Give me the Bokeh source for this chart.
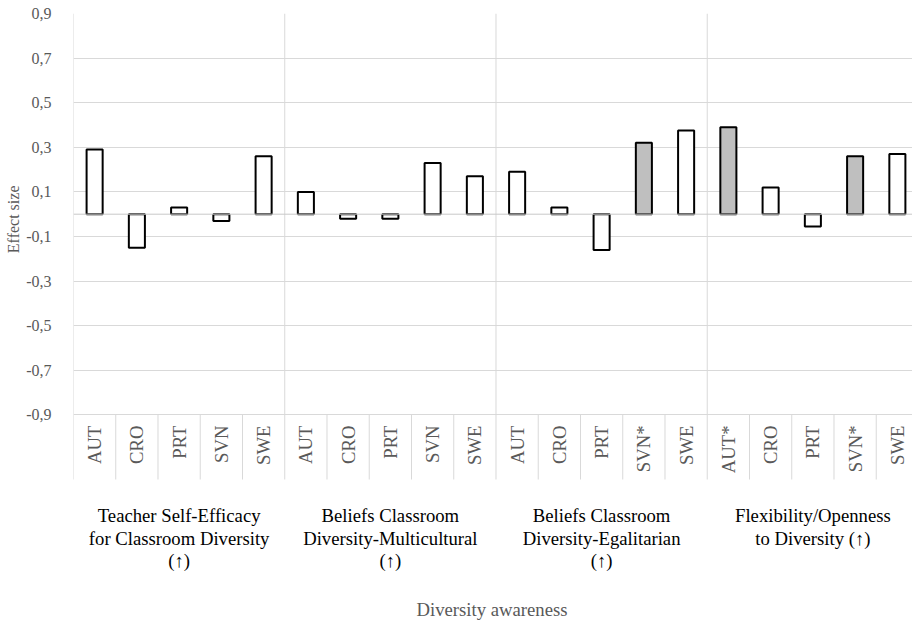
import numpy as np
from bokeh.plotting import figure
from bokeh.models import Range1d, FixedTicker, ColumnDataSource, Span, Title
from bokeh.embed import file_html
from bokeh.resources import INLINE
from bokeh.core.properties import value

# ---------------- data ----------------
group_names = [
    "Teacher Self-Efficacy\nfor Classroom Diversity\n(\u2191)",
    "Beliefs Classroom\nDiversity-Multicultural\n(\u2191)",
    "Beliefs Classroom\nDiversity-Egalitarian\n(\u2191)",
    "Flexibility/Openness\nto Diversity (\u2191)",
]
country_labels = [
    "AUT", "CRO", "PRT", "SVN", "SWE",
    "AUT", "CRO", "PRT", "SVN", "SWE",
    "AUT", "CRO", "PRT", "SVN*", "SWE",
    "AUT*", "CRO", "PRT", "SVN*", "SWE",
]
effect_sizes = [
    0.29, -0.15, 0.03, -0.03, 0.26,
    0.10, -0.02, -0.02, 0.23, 0.17,
    0.19, 0.03, -0.16, 0.32, 0.375,
    0.39, 0.12, -0.055, 0.26, 0.27,
]
y_ticks = [-0.9, -0.7, -0.5, -0.3, -0.1, 0.1, 0.3, 0.5, 0.7, 0.9]
y_tick_labels = ["-0,9", "-0,7", "-0,5", "-0,3", "-0,1", "0,1", "0,3", "0,5", "0,7", "0,9"]
x_title = "Diversity awareness"
y_title = "Effect size"

# ---------------- style / layout ----------------
FONT = "'Liberation Serif', 'Times New Roman', serif"
GREY_TEXT = "#595959"
GRID = "#d9d9d9"
BAR_FILL_SIG = "#bfbfbf"
BAR_FILL = "#ffffff"

W, H = 912, 621
TOP_BORDER = 13
LEFT_BORDER = 72
Y_TOP = 0.9
PX_PER_UNIT = 223.0
CAT_PX = 42.3
X_END = (W - LEFT_BORDER) / CAT_PX
Y_START = Y_TOP - (H - TOP_BORDER) / PX_PER_UNIT


def y_at(px):
    # pixel (from top of picture) -> data y
    return Y_TOP - (px - TOP_BORDER) / PX_PER_UNIT


n = len(country_labels)
per_group = n // len(group_names)
xs = np.arange(n) + 0.5
fills = [BAR_FILL_SIG if "*" in c else BAR_FILL for c in country_labels]

p = figure(
    width=W, height=H,
    x_range=Range1d(0, X_END), y_range=Range1d(Y_START, Y_TOP),
    output_backend="svg", toolbar_location=None,
    x_axis_location=None,
    min_border_left=LEFT_BORDER, min_border_right=0,
    min_border_top=TOP_BORDER, min_border_bottom=0,
)
p.outline_line_color = None
p.background_fill_color = "white"
p.border_fill_color = "white"

ticker = FixedTicker(ticks=y_ticks)
p.yaxis.ticker = ticker
p.yaxis.major_label_overrides = dict(zip(y_ticks, y_tick_labels))
p.yaxis.axis_line_color = None
p.yaxis.major_tick_line_color = None
p.yaxis.minor_tick_line_color = None
p.yaxis.major_label_standoff = 16
p.yaxis.major_label_text_font = FONT
p.yaxis.major_label_text_font_size = "16px"
p.yaxis.major_label_text_color = GREY_TEXT

# y title on the left, placed beside the value area (top of text at ~172px)
p.add_layout(Title(text=y_title, align="right", offset=172,
                   text_font=FONT, text_font_size="16px", text_font_style="normal",
                   text_color=GREY_TEXT, standoff=4), "left")

p.xgrid.visible = False
p.ygrid.ticker = ticker
p.ygrid.grid_line_color = GRID
p.ygrid.grid_line_width = 1

# separators: group boundaries span the whole plot, category ones only the label band
bottom_sep = y_at(479)
sep_x0, sep_y0, sep_y1 = [], [], []
for i in range(n):
    sep_x0.append(i)
    sep_y1.append(bottom_sep)
    sep_y0.append(Y_TOP if i % per_group == 0 else y_ticks[0])
p.segment(x0=sep_x0, y0=sep_y0, x1=sep_x0, y1=sep_y1, line_color=GRID, line_width=1)

# bars
src = ColumnDataSource(dict(x=xs, top=effect_sizes, fill=fills))
p.vbar(x="x", top="top", bottom=0, width=0.38, source=src,
       fill_color="fill", line_color="black", line_width=2)

# zero (category axis) line
p.add_layout(Span(location=0, dimension="width", line_color="#c8c8c8", line_width=1))

# category labels (rotated)
p.text(x=xs, y=[y_at(425)] * n, text=country_labels, angle=np.pi / 2,
       text_align="right", text_baseline="middle",
       text_font=value(FONT), text_font_size="18.7px", text_color=GREY_TEXT)

# group labels
gx, gy, gt = [], [], []
for g, name in enumerate(group_names):
    for j, line in enumerate(name.split("\n")):
        gx.append(g * per_group + per_group / 2)
        gy.append(y_at(515 + 22.5 * j))
        gt.append(line)
p.text(x=gx, y=gy, text=gt, text_align="center", text_baseline="middle",
       text_font=value(FONT), text_font_size="18.7px", text_color="#000000")

# x title
p.text(x=[(W / 2 - LEFT_BORDER + 35) / CAT_PX], y=[y_at(608.5)], text=[x_title], text_align="center",
       text_baseline="middle", text_font=value(FONT), text_font_size="18.7px",
       text_color=GREY_TEXT)

open("out.html", "w").write(file_html(p, INLINE))
